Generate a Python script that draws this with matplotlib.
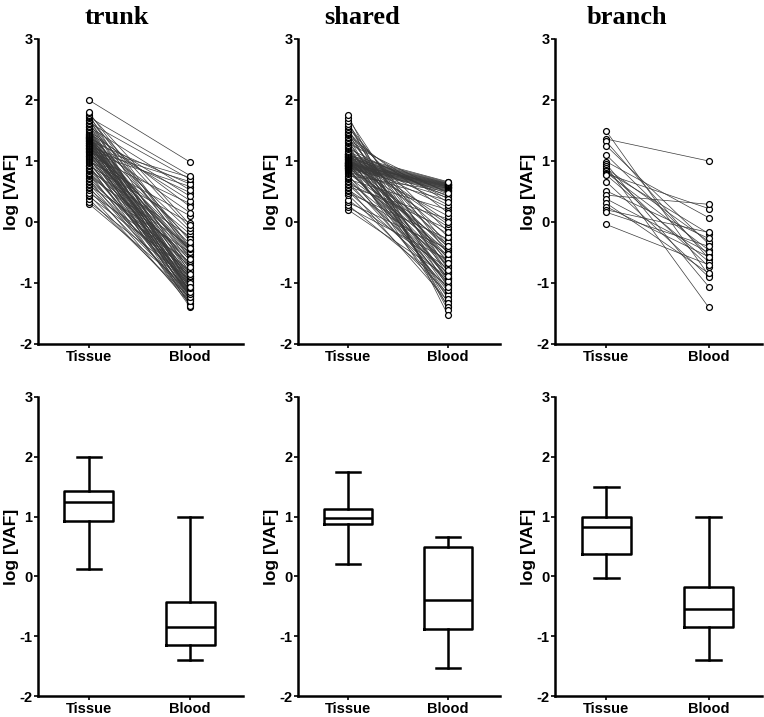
import numpy as np
import matplotlib.pyplot as plt

groups = ["trunk", "shared", "branch"]
categories = ["Tissue", "Blood"]

# paired log[VAF] values, tissue[i] <-> blood[i]
trunk_tissue = [
    0.30, 0.33, 0.38, 0.42, 0.45, 0.48, 0.52, 0.55, 0.58, 0.60, 0.63, 0.66, 0.68,
    0.70, 0.72, 0.75, 0.77, 0.79, 0.81, 0.83, 0.85, 0.87, 0.89, 0.91, 0.92,
    0.94, 0.96, 0.98, 1.00, 1.01, 1.03, 1.05, 1.06, 1.08, 1.09, 1.10, 1.12, 1.13,
    1.14, 1.15, 1.16, 1.17, 1.18, 1.19, 1.20, 1.21, 1.22, 1.22, 1.23, 1.24,
    1.25, 1.26, 1.26, 1.27, 1.28, 1.29, 1.30, 1.30, 1.31, 1.32, 1.33, 1.33, 1.34,
    1.35, 1.36, 1.36, 1.37, 1.38, 1.38, 1.39, 1.40, 1.40, 1.41, 1.41, 1.42,
    1.43, 1.44, 1.45, 1.46, 1.48, 1.49, 1.50, 1.52, 1.53, 1.55, 1.56, 1.58, 1.60,
    1.61, 1.63, 1.65, 1.67, 1.68, 1.70, 1.72, 1.74, 1.76, 1.78, 1.80, 2.00,
]
trunk_blood = [
    -1.10, -0.95, -1.25, -0.80, -1.30, -0.66, -1.18, -0.90, -1.35, -0.50, -1.21, -1.03, -0.72,
    -1.27, -0.87, -0.40, -1.16, -0.58, -1.33, -0.98, -0.24, -1.07, -0.62, -1.19, -0.02,
    -1.40, -0.84, -1.12, 0.10, -1.28, -0.68, -0.92, -1.36, -0.45, 0.30, -1.22, -1.05, -0.56,
    0.58, -1.32, -0.76, -1.13, 0.66, -0.20, -1.24, -0.89, -0.48, 0.73, -1.17, -0.36,
    -1.38, -0.94, 0.48, -0.70, -1.26, -1.09, -0.54, 0.15, -1.20, -0.99, -0.82, -1.29, 0.62,
    -0.47, -1.14, -1.02, -0.64, -0.28, -1.23, -0.91, 0.35, -0.52, -1.16, -0.96, -0.15,
    -1.18, -0.78, 0.42, -1.11, -0.60, -1.04, 0.25, -0.74, -1.15, -0.88, 0.52, -0.46, -1.08,
    -0.32, 0.70, -1.00, -0.49, -0.10, -1.06, 0.76, -0.44, -0.85, -0.05, -0.42, 0.98,
]

shared_tissue = [
    0.20, 0.24, 0.28, 0.32, 0.36, 0.45, 0.48, 0.50, 0.53, 0.56, 0.58, 0.61, 0.63,
    0.66, 0.68, 0.70, 0.72, 0.74, 0.76, 0.78, 0.80, 0.82, 0.84, 0.85, 0.86,
    0.87, 0.87, 0.88, 0.88, 0.89, 0.89, 0.90, 0.90, 0.91, 0.91, 0.92, 0.92, 0.93,
    0.93, 0.94, 0.94, 0.94, 0.95, 0.95, 0.95, 0.96, 0.96, 0.96, 0.97, 0.97,
    0.98, 0.98, 0.99, 1.00, 1.00, 1.01, 1.02, 1.03, 1.03, 1.04, 1.05, 1.05, 1.06,
    1.07, 1.07, 1.08, 1.09, 1.09, 1.10, 1.10, 1.11, 1.11, 1.12, 1.12, 1.13,
    1.15, 1.17, 1.19, 1.21, 1.23, 1.25, 1.27, 1.29, 1.31, 1.33, 1.35, 1.37, 1.40,
    1.42, 1.44, 1.46, 1.48, 1.50, 1.53, 1.56, 1.58, 1.60, 1.65, 1.70, 1.75,
]
shared_blood = [
    -0.90, -0.62, -1.05, -0.44, -0.76, -1.17, -0.28, -0.95, -0.54, -1.30, 0.05, -0.84, -0.12,
    -1.09, -0.66, 0.20, -0.99, -0.48, 0.50, -1.22, -0.36, 0.35, -0.72, 0.51, -0.91,
    0.52, -0.86, 0.53, -0.20, 0.54, -1.03, 0.55, 0.40, 0.55, -0.58, 0.56, 0.57, -0.40,
    0.57, 0.10, 0.58, -1.14, 0.58, 0.59, -0.70, 0.59, 0.44, 0.60, -0.08, 0.60,
    0.61, -0.50, 0.61, -1.37, 0.62, 0.24, 0.62, -0.80, 0.63, -0.32, 0.63, -1.01, 0.64,
    0.46, -0.56, 0.65, -0.04, -1.20, 0.66, -0.64, 0.28, -0.93, 0.42, -0.46, 0.00,
    0.49, -1.11, -0.60, 0.38, -0.92, -0.24, -1.26, 0.47, -0.74, -0.97, 0.32, -0.42, -1.33,
    0.15, -0.82, -1.07, -0.16, -0.68, -1.40, -0.39, -0.88, -0.52, -1.45, -0.78, -1.53,
]

branch_tissue = [
    1.49, 1.36, 1.32, 1.25, 1.10, 0.99, 0.95, 0.91, 0.88, 0.85, 0.83, 0.81,
    0.79, 0.77, 0.66, 0.51, 0.44, 0.38, 0.31, 0.25, 0.20, 0.16, -0.04,
]
branch_blood = [
    -0.87, 1.00, -0.60, -0.36, -0.54, 0.07, -1.06, -1.40, -0.32, -0.73, -0.19, -0.46,
    0.22, -0.65, -0.90, -0.27, 0.29, -0.50, -0.84, -0.57, -0.17, -0.40, -0.70,
]

# box summary (whisker low, q1, median, q3, whisker high) for Tissue, Blood
trunk_box = [[0.12, 0.93, 1.24, 1.42, 2.00], [-1.40, -1.14, -0.85, -0.42, 0.99]]
shared_box = [[0.20, 0.87, 0.97, 1.13, 1.75], [-1.53, -0.88, -0.39, 0.49, 0.66]]
branch_box = [[-0.03, 0.37, 0.83, 1.00, 1.49], [-1.40, -0.84, -0.54, -0.17, 1.00]]

paired = [(trunk_tissue, trunk_blood), (shared_tissue, shared_blood), (branch_tissue, branch_blood)]
boxes = [trunk_box, shared_box, branch_box]

plt.rcParams['font.family'] = ['Liberation Sans', 'DejaVu Sans']
plt.rcParams['font.weight'] = 'bold'
plt.rcParams['axes.unicode_minus'] = False

W, H = 764, 717
fig = plt.figure(figsize=(W / 100, H / 100), dpi=100)

lefts = [38, 298, 555]
widths = [205, 202, 207]
title_x = [117, 362, 627]


def style_axes(ax, wpx):
    ax.set_xlim(-0.5, 1.52)
    ax.set_ylim(-2, 3)
    ax.set_yticks([-2, -1, 0, 1, 2, 3])
    ax.set_xticks([0, 1])
    ax.set_xticklabels(categories, fontsize=10.5, fontweight='bold')
    for t in ax.get_yticklabels():
        t.set_fontsize(10.5)
        t.set_fontweight('bold')
    ax.spines['top'].set_visible(False)
    ax.spines['right'].set_visible(False)
    ax.spines['left'].set_linewidth(1.8)
    ax.spines['bottom'].set_linewidth(1.8)
    ax.tick_params(axis='y', length=3, width=1.2, pad=1)
    ax.tick_params(axis='x', length=3, width=1.2, pad=1)
    ax.set_ylabel("log [VAF]", fontsize=12.5, fontweight='bold')
    ax.yaxis.set_label_coords(-19 / wpx, 0.5)


for i, g in enumerate(groups):
    # top row: paired lines
    ax = fig.add_axes([lefts[i] / W, 1 - 344 / H, widths[i] / W, 305 / H])
    tis, bld = paired[i]
    for a, b in zip(tis, bld):
        ax.plot([0, 1], [a, b], color='#3a3a3a', lw=0.5, zorder=1)
    ax.scatter(np.zeros(len(tis)), tis, s=18, facecolors='white', edgecolors='black',
               linewidths=0.9, zorder=3)
    ax.scatter(np.ones(len(bld)), bld, s=18, facecolors='white', edgecolors='black',
               linewidths=0.9, zorder=3)
    style_axes(ax, widths[i])
    fig.text(title_x[i] / W, 1 - 18 / H, g, ha='center', va='center',
             fontsize=19, fontweight='bold', family='Liberation Serif')

    # bottom row: box plots
    ax2 = fig.add_axes([lefts[i] / W, 1 - 696 / H, widths[i] / W, 299 / H])
    stats = []
    for lab, (lo, q1, med, q3, hi) in zip(categories, boxes[i]):
        stats.append(dict(label=lab, whislo=lo, q1=q1, med=med, q3=q3, whishi=hi, fliers=[]))
    lw = 1.8
    ax2.bxp(stats, positions=[0, 1], widths=0.48, capwidths=0.24, showfliers=False,
            boxprops=dict(color='black', lw=lw), whiskerprops=dict(color='black', lw=lw),
            capprops=dict(color='black', lw=lw), medianprops=dict(color='black', lw=lw))
    style_axes(ax2, widths[i])

fig.savefig("out.png", dpi=100)
